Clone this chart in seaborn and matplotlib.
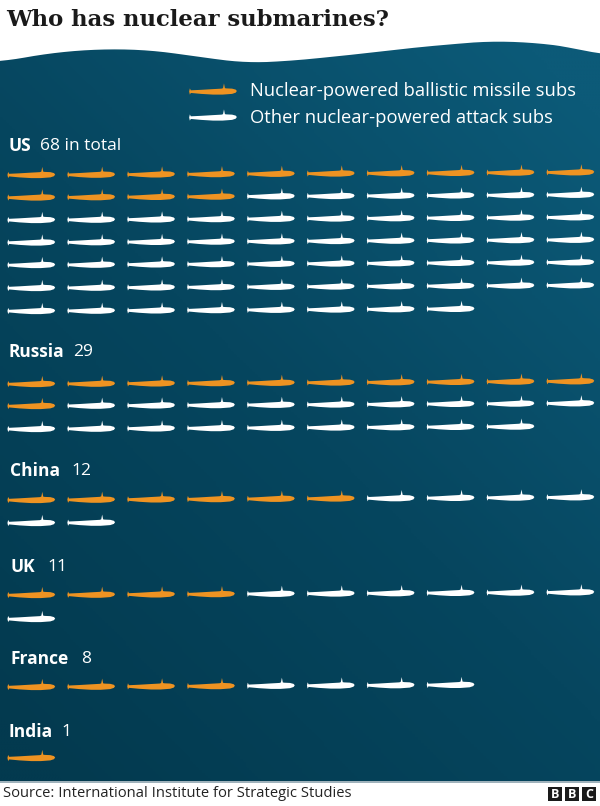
import numpy as np
import pandas as pd
import matplotlib
matplotlib.use('Agg')
import matplotlib.pyplot as plt
from matplotlib.path import Path
from matplotlib.patches import PathPatch, Rectangle
from matplotlib.colors import LinearSegmentedColormap
import seaborn as sns

# Data
countries = ['US', 'Russia', 'China', 'UK', 'France', 'India']
ballistic = [14, 11, 6, 4, 4, 1]
attack = [54, 18, 6, 7, 4, 0]
total_labels = ['68 in total', '29', '12', '11', '8', '1']
legend_labels = ['Nuclear-powered ballistic missile subs', 'Other nuclear-powered attack subs']

# Layout, in image pixels
row_y = [
    [175, 197.5, 220, 242.5, 265, 288, 311],
    [384, 406, 429],
    [500, 523],
    [595, 619],
    [687],
    [758],
]
label_pos = [(8, 40, 146), (8, 73, 352), (10, 71, 471), (10, 47, 567), (10, 81, 659), (8, 61, 732)]
wave_x = [0, 50, 100, 150, 200, 245, 290, 350, 420, 490, 540, 575, 600]
wave_y = [62, 53, 49, 50, 57, 63, 61, 55, 47, 41, 43, 48, 55]

ORANGE = '#ee9322'
WHITE = '#ffffff'

sns.set_theme(style='white')
plt.rcParams['font.family'] = ['Open Sans', 'DejaVu Sans']


def sub_marker():
    # side view, bow on the right, conning tower just ahead of centre
    verts = [(-1.0, 0.0), (-0.97, 0.13), (-0.93, 0.05), (-0.5, 0.07), (0.0, 0.1), (0.36, 0.12),
             (0.42, 0.14), (0.46, 0.34), (0.5, 0.14), (0.56, 0.13), (0.8, 0.12), (0.95, 0.08),
             (1.0, 0.02), (0.95, -0.05), (0.8, -0.1), (0.4, -0.13), (0.0, -0.13), (-0.5, -0.1),
             (-0.93, -0.06), (-0.97, -0.13), (-1.0, 0.0)]
    return Path(verts, closed=True)


# Flatten each country into one row per sub
rows = []
for name, n_b, n_a, ys in zip(countries, ballistic, attack, row_y):
    for i in range(n_b + n_a):
        col = i % 10
        rows.append({
            'country': name,
            'kind': 'ballistic' if i < n_b else 'attack',
            'x': 31.3 + col * 59.9,
            'y': ys[i // 10] - col * 0.3,  # original is very slightly tilted
        })
df = pd.DataFrame(rows)
legend_df = pd.DataFrame({'kind': ['ballistic', 'attack'], 'x': [213, 213], 'y': [91.5, 117.5]})

fig = plt.figure(figsize=(6, 8.06), dpi=100, facecolor='white')
ax = fig.add_axes([0, 0, 1, 1])
ax.set_xlim(0, 600)
ax.set_ylim(806, 0)
ax.axis('off')

# Sea background: diagonal gradient clipped under the wave
gx, gy = np.meshgrid(np.linspace(0, 1, 200), np.linspace(1, 0, 260))
sea = LinearSegmentedColormap.from_list('sea', ['#033a4f', '#06465f', '#0c5a78'])
img = ax.imshow(np.clip(gx * 0.5 + gy * 0.62 - 0.05, 0, 1), cmap=sea, vmin=0, vmax=1,
                extent=(0, 600, 782, 30), aspect='auto', zorder=1)
xs = np.linspace(0, 600, 300)
# smooth the hand read outline a little
ys_wave = np.interp(xs, wave_x, wave_y)
kernel = np.ones(25) / 25
ys_wave = np.convolve(np.pad(ys_wave, 12, mode='edge'), kernel, mode='valid')
outline = list(zip(xs, ys_wave)) + [(600, 782), (0, 782)]
clip = PathPatch(Path(outline, closed=False), transform=ax.transData, fc='none', ec='none')
ax.add_patch(clip)
img.set_clip_path(clip)
ax.set_xlim(0, 600)
ax.set_ylim(806, 0)

# Subs
palette = {'ballistic': ORANGE, 'attack': WHITE}
marker = sub_marker()
sns.scatterplot(data=df, x='x', y='y', hue='kind', palette=palette, marker=marker, s=1180,
                linewidth=0, edgecolor='none', legend=False, ax=ax, zorder=3)
sns.scatterplot(data=legend_df, x='x', y='y', hue='kind', palette=palette, marker=marker, s=1180,
                linewidth=0, edgecolor='none', legend=False, ax=ax, zorder=3)
ax.set_xlim(0, 600)
ax.set_ylim(806, 0)
ax.axis('off')

# Text
ax.text(6, 20, 'Who has nuclear submarines?', family='DejaVu Serif', fontsize=16.4, weight='bold',
        color='#1a1a1a', va='center', zorder=5)
for label, y in zip(legend_labels, [91, 118]):
    ax.text(250, y, label, color='white', fontsize=13.2, va='center', zorder=5)
for name, total, (x0, x1, y) in zip(countries, total_labels, label_pos):
    ax.text(x0, y, name, color='white', fontsize=12.5, weight='bold', va='center', zorder=5)
    ax.text(x1, y, total, color='white', fontsize=12.5, va='center', zorder=5)

# Footer
ax.add_patch(Rectangle((0, 781), 600, 1.5, fc='#9fb2bb', ec='none', zorder=4))
ax.text(3, 793.5, 'Source: International Institute for Strategic Studies', color='#222222',
        fontsize=10.6, va='center', zorder=5)
for i, letter in enumerate('BBC'):
    ax.add_patch(Rectangle((547.5 + i * 17, 786.5), 14.5, 14.5, fc='#1a1a1a', ec='none', zorder=5))
    ax.text(547.5 + i * 17 + 7.25, 794, letter, color='white', fontsize=9, weight='bold',
            ha='center', va='center', zorder=6)

fig.savefig('out.png', dpi=100, facecolor='white')
